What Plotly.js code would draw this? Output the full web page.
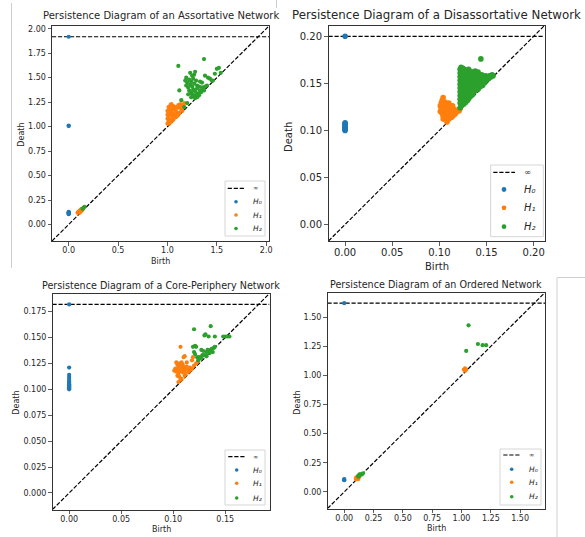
<!DOCTYPE html>
<html><head><meta charset="utf-8">
<script src="https://cdn.plot.ly/plotly-3.0.1.min.js"></script>
<style>html,body{margin:0;padding:0;background:#fff;}#chart{width:585px;height:537px;}</style>
</head><body><div id="chart"></div>
<script>
// ---------------- DATA ----------------
const panelTitles = [
  "Persistence Diagram of an Assortative Network",
  "Persistence Diagram of a Disassortative Network",
  "Persistence Diagram of a Core-Periphery Network",
  "Persistence Diagram of an Ordered Network"
];
const axisLimits = [[-0.169, 2.028], [-0.0176, 0.2115], [-0.016, 0.1925], [-0.1427, 1.712]];
const infValues = [1.918, 0.200, 0.182, 1.620];
const xTicks = [[0, 0.5, 1.0, 1.5, 2.0], [0, 0.05, 0.10, 0.15, 0.20], [0, 0.05, 0.10, 0.15], [0, 0.25, 0.5, 0.75, 1.0, 1.25, 1.5]];
const yTicks = [[0, 0.25, 0.5, 0.75, 1.0, 1.25, 1.5, 1.75, 2.0], [0, 0.05, 0.10, 0.15, 0.20], [0, 0.025, 0.05, 0.075, 0.1, 0.125, 0.15, 0.175], [0, 0.25, 0.5, 0.75, 1.0, 1.25, 1.5]];
const xTickDecimals = [1, 2, 2, 2];
const yTickDecimals = [2, 2, 3, 2];
const legendLabels = ["∞", "H₀", "H₁", "H₂"];

// H0 finite deaths (birth = 0); the infinite class is drawn at infValues
const assortH0 = [1.01, 1.005, 0.13, 0.125, 0.12, 0.115, 0.11, 0.105];
const assortH1 = [[0.09,0.12],[0.10,0.13],[0.11,0.14],[0.12,0.13],[0.12,0.15],[0.13,0.14],[0.14,0.15],[0.11,0.12],[0.13,0.16],
  [1.00,1.03],[1.01,1.05],[1.00,1.08],[1.01,1.10],[1.00,1.12],[1.01,1.14],[1.00,1.16],[1.02,1.18],[1.01,1.20],[1.03,1.22],
  [1.03,1.07],[1.03,1.12],[1.04,1.15],[1.05,1.19],[1.04,1.23],[1.06,1.21],[1.05,1.10],[1.06,1.13],[1.07,1.17],[1.08,1.20],
  [1.07,1.09],[1.08,1.12],[1.09,1.15],[1.10,1.11],[1.10,1.19],[1.11,1.22],[1.12,1.20],[1.13,1.23],[1.14,1.21],[1.15,1.19],
  [1.16,1.22],[1.17,1.24],[1.12,1.14],[1.14,1.17],[1.15,1.16],[1.02,1.03],[1.04,1.05],[1.06,1.07],[1.09,1.10],[1.11,1.12],
  [1.02,1.15],[1.03,1.17]];
const assortH2 = [[0.15,0.17],[0.16,0.18],[0.14,0.16],
  [1.11,1.62],[1.37,1.69],[1.52,1.60],[1.50,1.59],[1.48,1.54],[1.38,1.52],[1.41,1.50],[1.43,1.49],[1.23,1.55],[1.28,1.56],
  [1.25,1.52],[1.12,1.37],[1.14,1.27],[1.17,1.20],[1.20,1.24],[1.18,1.47],[1.20,1.45],[1.22,1.48],[1.24,1.46],[1.26,1.49],
  [1.19,1.42],[1.21,1.40],[1.23,1.43],[1.25,1.41],[1.27,1.44],[1.29,1.47],[1.30,1.42],[1.22,1.37],[1.24,1.35],[1.26,1.38],
  [1.28,1.36],[1.30,1.39],[1.32,1.41],[1.33,1.37],[1.35,1.40],[1.36,1.38],[1.25,1.33],[1.27,1.31],[1.29,1.33],[1.31,1.34],
  [1.34,1.35],[1.30,1.30],[1.32,1.32],[1.37,1.37],[1.28,1.29],[1.35,1.45],[1.33,1.46],[1.24,1.30],[1.21,1.33],[1.38,1.41],
  [1.45,1.47],[1.40,1.42],[1.54,1.55],[1.46,1.47],[1.19,1.50],[1.27,1.53]];

const disassortH0 = [0.100, 0.101, 0.102, 0.103, 0.104, 0.105, 0.106, 0.107, 0.108];
const disassortH1 = [[0.104,0.135],[0.103,0.132],[0.102,0.129],[0.101,0.126],[0.102,0.123],[0.101,0.120],[0.103,0.118],
  [0.104,0.115],[0.105,0.127],[0.106,0.124],[0.105,0.121],[0.107,0.118],[0.106,0.130],[0.108,0.127],[0.109,0.123],
  [0.108,0.120],[0.110,0.117],[0.107,0.113],[0.109,0.111],[0.108,0.109],[0.111,0.113],[0.111,0.126],[0.112,0.121],
  [0.113,0.118],[0.114,0.115],[0.112,0.124],[0.115,0.123],[0.116,0.120],[0.117,0.118],[0.114,0.126],[0.118,0.121],
  [0.119,0.120],[0.120,0.122],[0.121,0.121],[0.122,0.123],[0.110,0.129],[0.104,0.112],[0.113,0.114],[0.116,0.117],
  [0.124,0.130],[0.103,0.125],[0.106,0.116],[0.110,0.120],[0.107,0.125]];
const disassortH2 = [[0.123,0.167],[0.125,0.166],
  [0.122,0.165],[0.124,0.164],[0.126,0.165],[0.128,0.164],[0.131,0.165],
  [0.123,0.163],[0.125,0.162],[0.127,0.163],[0.129,0.162],[0.132,0.163],[0.135,0.162],[0.138,0.163],[0.141,0.162],
  [0.122,0.161],[0.124,0.160],[0.126,0.161],[0.128,0.160],[0.130,0.161],[0.133,0.160],[0.136,0.161],[0.139,0.160],[0.142,0.160],[0.145,0.159],
  [0.123,0.159],[0.125,0.158],[0.127,0.159],[0.129,0.158],[0.131,0.159],[0.134,0.158],[0.137,0.159],[0.140,0.158],[0.143,0.158],[0.146,0.157],[0.149,0.158],[0.153,0.158],[0.156,0.159],
  [0.122,0.157],[0.124,0.156],[0.126,0.157],[0.128,0.156],[0.130,0.157],[0.132,0.156],[0.135,0.157],[0.138,0.156],[0.141,0.157],[0.144,0.156],[0.147,0.156],[0.150,0.156],[0.152,0.155],[0.155,0.157],[0.157,0.158],
  [0.123,0.155],[0.125,0.154],[0.127,0.155],[0.129,0.154],[0.131,0.155],[0.134,0.154],[0.137,0.155],[0.140,0.154],[0.143,0.155],[0.146,0.154],[0.149,0.153],
  [0.122,0.153],[0.124,0.152],[0.126,0.153],[0.128,0.152],[0.130,0.153],[0.133,0.152],[0.136,0.153],[0.139,0.152],[0.142,0.153],[0.145,0.152],[0.148,0.151],
  [0.123,0.151],[0.125,0.150],[0.127,0.151],[0.129,0.150],[0.132,0.151],[0.135,0.150],[0.138,0.151],[0.141,0.150],[0.144,0.149],[0.146,0.148],
  [0.122,0.149],[0.124,0.148],[0.126,0.149],[0.128,0.148],[0.131,0.149],[0.134,0.148],[0.137,0.149],[0.140,0.147],[0.143,0.146],
  [0.123,0.147],[0.125,0.146],[0.127,0.147],[0.130,0.146],[0.133,0.147],[0.136,0.146],[0.139,0.145],[0.141,0.144],
  [0.122,0.145],[0.124,0.144],[0.126,0.145],[0.129,0.144],[0.132,0.145],[0.135,0.144],[0.138,0.142],
  [0.123,0.143],[0.125,0.142],[0.128,0.143],[0.131,0.142],[0.134,0.141],[0.136,0.140],
  [0.122,0.141],[0.124,0.140],[0.127,0.141],[0.130,0.140],[0.133,0.139],[0.135,0.138],
  [0.123,0.139],[0.125,0.138],[0.128,0.139],[0.131,0.137],[0.133,0.136],
  [0.122,0.137],[0.124,0.136],[0.127,0.137],[0.129,0.135],[0.131,0.134],
  [0.123,0.135],[0.125,0.134],[0.128,0.133],[0.130,0.132],
  [0.122,0.133],[0.124,0.132],[0.126,0.131],[0.128,0.130],
  [0.123,0.131],[0.125,0.129],[0.126,0.128],[0.122,0.129],[0.124,0.127],[0.123,0.126],[0.122,0.124],
  [0.144,0.176]];

const coreH0 = [0.121, 0.114, 0.112, 0.110, 0.108, 0.107, 0.106, 0.105, 0.104, 0.103, 0.102, 0.101, 0.100];
const coreH1 = [[0.107,0.141],[0.110,0.131],[0.111,0.132],[0.119,0.131],[0.103,0.126],[0.104,0.124],[0.105,0.122],
  [0.106,0.125],[0.107,0.123],[0.108,0.126],[0.109,0.124],[0.110,0.122],[0.102,0.120],[0.103,0.117],[0.104,0.119],
  [0.105,0.115],[0.106,0.118],[0.107,0.120],[0.108,0.117],[0.109,0.119],[0.110,0.116],[0.111,0.118],[0.112,0.120],
  [0.113,0.122],[0.114,0.119],[0.104,0.113],[0.106,0.112],[0.108,0.110],[0.105,0.107],[0.107,0.109],[0.111,0.113],
  [0.112,0.115],[0.115,0.117],[0.116,0.121],[0.117,0.119],[0.118,0.120],[0.120,0.123],[0.122,0.125],[0.124,0.127],
  [0.113,0.126],[0.101,0.118],[0.118,0.128]];
const coreH2 = [[0.120,0.158],[0.136,0.161],[0.130,0.152],[0.131,0.153],[0.134,0.151],[0.140,0.151],[0.148,0.151],
  [0.150,0.151],[0.152,0.151],[0.154,0.151],[0.119,0.141],[0.121,0.142],[0.122,0.141],[0.127,0.138],[0.126,0.130],
  [0.121,0.134],[0.123,0.131],[0.125,0.131],[0.127,0.131],[0.130,0.133],[0.132,0.136],[0.133,0.138],[0.134,0.137],
  [0.136,0.138],[0.137,0.139],[0.139,0.140],[0.140,0.141],[0.138,0.136],[0.132,0.132],[0.124,0.128],[0.128,0.133],
  [0.135,0.135],[0.120,0.136],[0.129,0.137]];

const orderedH0 = [0.10, 0.105, 0.11];
const orderedH1 = [[0.10,0.12],[0.11,0.13],[0.12,0.11],[0.11,0.11],[0.13,0.13],[0.10,0.11],
  [1.02,1.05],[1.03,1.04],[1.03,1.06],[1.04,1.05]];
const orderedH2 = [[1.06,1.43],[1.04,1.21],[1.14,1.27],[1.18,1.26],[1.21,1.26],
  [0.12,0.13],[0.13,0.14],[0.14,0.15],[0.15,0.15],[0.13,0.15],[0.16,0.16],[0.12,0.14]];

const h0Sets = [assortH0, disassortH0, coreH0, orderedH0];
const h1Sets = [assortH1, disassortH1, coreH1, orderedH1];
const h2Sets = [assortH2, disassortH2, coreH2, orderedH2];

// ---------------- STYLE / LAYOUT ----------------
const W = 585, H = 537;
const COLORS = ["#1f77b4", "#ff7f0e", "#2ca02c"];
const FONT = "DejaVu Sans";
const px = v => v / W;
const py = v => 1 - v / H;

// plot boxes in pixels [left, right, top, bottom]
const boxes = [[52, 269, 26, 241], [328.5, 544.5, 25.5, 241], [52.5, 269.5, 293.5, 509.5], [327.5, 545, 292.5, 508.5]];
const tickFont = [8, 10, 8, 8];
const titleFont = [10, 11.8, 9.6, 9.6];
const markerSize = [4.2, 5.6, 4.2, 4.2];
const titleY = [16, 15, 285.5, 284];
const birthPos = [[160.5, 261.5], [436.5, 266.5], [161, 529], [436, 528]];
const deathPos = [[20.7, 135], [288.3, 136.7], [15.7, 403], [296.7, 403]];
const legendGeo = [
  {box: [225, 265, 181, 236], rows: [188.3, 201.7, 215, 228.5], line: [227.7, 244.3], mk: 236, tx: 250.7, fs: 7.5, ms: 3.6},
  {box: [490.7, 543.3, 165, 236.7], rows: [172.3, 189.5, 207.8, 226.7], line: [493.3, 515], mk: 504, tx: 522, fs: 10, ms: 4.8},
  {box: [225, 265, 450, 505], rows: [456.7, 470, 483.3, 498], line: [228.3, 245], mk: 236.7, tx: 250.7, fs: 7.5, ms: 3.6},
  {box: [500, 541, 449, 505], rows: [455, 469.3, 482.3, 496.7], line: [503.3, 520], mk: 511.7, tx: 526.7, fs: 7.5, ms: 3.6}
];

const traces = [];
const layout = {
  width: W, height: H, margin: {l: 0, r: 0, t: 0, b: 0},
  paper_bgcolor: "#fff", plot_bgcolor: "#fff", showlegend: false,
  font: {family: FONT, color: "#262626"},
  annotations: [], shapes: []
};

for (let i = 0; i < 4; i++) {
  const n = i === 0 ? "" : String(i + 1);
  const xa = "x" + n, ya = "y" + n;
  const lim = axisLimits[i];
  const b = boxes[i];
  const common = {
    range: lim, ticks: "outside", ticklen: 3.5, tickwidth: 0.8, tickcolor: "#333",
    showline: true, mirror: true, linecolor: "#333", linewidth: 1,
    showgrid: false, zeroline: false, fixedrange: true,
    tickfont: {family: FONT, size: tickFont[i], color: "#262626"}
  };
  layout["xaxis" + n] = Object.assign({}, common, {
    domain: [px(b[0]), px(b[1])], anchor: ya, ticklabelstandoff: -2,
    tickvals: xTicks[i], ticktext: xTicks[i].map(v => v.toFixed(xTickDecimals[i]))
  });
  layout["yaxis" + n] = Object.assign({}, common, {
    domain: [py(b[3]), py(b[2])], anchor: xa,
    tickvals: yTicks[i], ticktext: yTicks[i].map(v => v.toFixed(yTickDecimals[i]))
  });

  const dashed = {color: "#000", width: 1.2, dash: "4.2px,1.8px"};
  traces.push({type: "scatter", mode: "lines", x: lim, y: lim, xaxis: xa, yaxis: ya, line: dashed, hoverinfo: "skip"});
  traces.push({type: "scatter", mode: "lines", x: lim, y: [infValues[i], infValues[i]], xaxis: xa, yaxis: ya, line: dashed, hoverinfo: "skip"});
  const h0y = [infValues[i]].concat(h0Sets[i]);
  traces.push({type: "scatter", mode: "markers", x: h0y.map(() => 0), y: h0y, xaxis: xa, yaxis: ya,
    marker: {color: COLORS[0], size: markerSize[i], line: {width: 0}}});
  traces.push({type: "scatter", mode: "markers", x: h1Sets[i].map(p => p[0]), y: h1Sets[i].map(p => p[1]), xaxis: xa, yaxis: ya,
    marker: {color: COLORS[1], size: markerSize[i], line: {width: 0}}});
  traces.push({type: "scatter", mode: "markers", x: h2Sets[i].map(p => p[0]), y: h2Sets[i].map(p => p[1]), xaxis: xa, yaxis: ya,
    marker: {color: COLORS[2], size: markerSize[i], line: {width: 0}}});

  layout.annotations.push({text: panelTitles[i], xref: "paper", yref: "paper", x: px((b[0] + b[1]) / 2), y: py(titleY[i]),
    xanchor: "center", yanchor: "middle", showarrow: false, font: {family: FONT, size: titleFont[i], color: "#262626"}});
  layout.annotations.push({text: "Birth", xref: "paper", yref: "paper", x: px(birthPos[i][0]), y: py(birthPos[i][1]),
    xanchor: "center", yanchor: "middle", showarrow: false, font: {family: FONT, size: tickFont[i], color: "#262626"}});
  layout.annotations.push({text: "Death", xref: "paper", yref: "paper", x: px(deathPos[i][0]), y: py(deathPos[i][1]),
    xanchor: "center", yanchor: "middle", textangle: -90, showarrow: false, font: {family: FONT, size: tickFont[i], color: "#262626"}});

  const g = legendGeo[i];
  layout.shapes.push({type: "rect", xref: "paper", yref: "paper", x0: px(g.box[0]), x1: px(g.box[1]), y0: py(g.box[3]), y1: py(g.box[2]),
    line: {color: "#d6d6d6", width: 1}, fillcolor: "rgba(255,255,255,0.8)", layer: "above"});
  layout.shapes.push({type: "line", xref: "paper", yref: "paper", x0: px(g.line[0]), x1: px(g.line[1]), y0: py(g.rows[0]), y1: py(g.rows[0]),
    line: {color: "#000", width: 1.2, dash: "4.2px,1.8px"}, layer: "above"});
  for (let k = 0; k < 3; k++) {
    const r = g.ms / 2, cy = g.rows[k + 1];
    layout.shapes.push({type: "circle", xref: "paper", yref: "paper", x0: px(g.mk - r), x1: px(g.mk + r), y0: py(cy + r), y1: py(cy - r),
      line: {width: 0}, fillcolor: COLORS[k], layer: "above"});
  }
  for (let k = 0; k < 4; k++) {
    layout.annotations.push({text: legendLabels[k], xref: "paper", yref: "paper", x: px(g.tx), y: py(g.rows[k]),
      xanchor: "left", yanchor: "middle", showarrow: false,
      font: {family: FONT, size: k === 0 ? g.fs * 0.85 : g.fs, style: k === 0 ? "normal" : "italic", color: "#262626"}});
  }
}

// screenshot frame remnants
const frameLine = {color: "#cfcfcf", width: 1};
layout.shapes.push({type: "line", xref: "paper", yref: "paper", x0: px(11.5), x1: px(11.5), y0: py(3), y1: py(268), line: frameLine});
layout.shapes.push({type: "line", xref: "paper", yref: "paper", x0: px(276.5), x1: px(276.5), y0: py(0), y1: py(8), line: frameLine});
layout.shapes.push({type: "line", xref: "paper", yref: "paper", x0: px(557), x1: px(557), y0: py(277.5), y1: py(537), line: frameLine});
layout.shapes.push({type: "line", xref: "paper", yref: "paper", x0: px(557), x1: px(585), y0: py(277.5), y1: py(277.5), line: frameLine});

Plotly.newPlot("chart", traces, layout, {staticPlot: true, displayModeBar: false});
</script>
</body></html>
